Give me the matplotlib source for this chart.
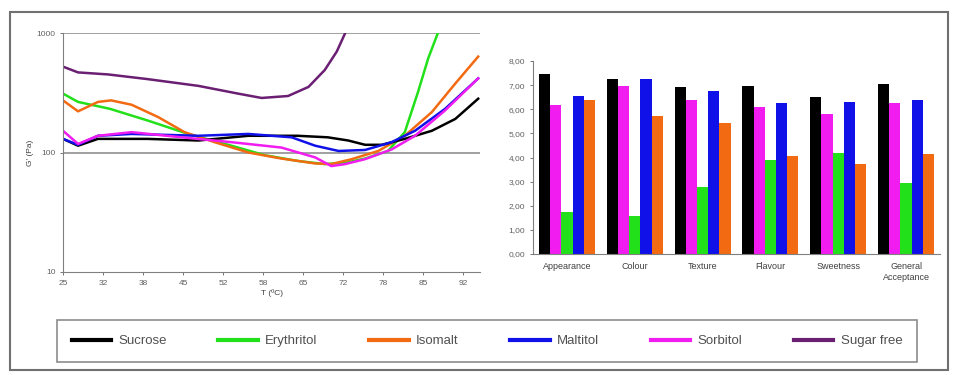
import matplotlib.pyplot as plt
import numpy as np
from matplotlib.patches import Rectangle
from matplotlib.lines import Line2D
from matplotlib.ticker import FixedLocator, FuncFormatter, NullLocator

plt.rcParams['font.family'] = ['Liberation Sans', 'DejaVu Sans']

# --- rheology curves, G' (Pa) vs temperature ---
t_sucrose = [25, 27.5, 30.8, 39, 47.5, 55.8, 64, 69, 72.4, 75.2, 78, 81.8, 86.3, 90.2, 94]
g_sucrose = [130, 114, 130, 130, 126, 138, 138, 134, 126, 116, 116, 130, 152, 191, 282]

t_erythritol = [25, 27.5, 32.8, 39.1, 45.8, 53, 58.5, 64, 68.5, 71.9, 75.2, 79, 81.8, 84, 85.7, 87.3]
g_erythritol = [311, 265, 232, 185, 143, 114, 95, 85, 80, 82, 89, 103, 148, 321, 615, 1000]

t_isomalt = [25, 27.5, 30.8, 33, 36.4, 40.8, 45.2, 50.2, 55.8, 61.3, 66.9, 69.6, 73, 77.4, 81.8, 86.3, 90.2, 94]
g_isomalt = [273, 221, 265, 273, 251, 198, 148, 122, 100, 89, 81, 80, 88, 103, 138, 218, 378, 635]

t_maltitol = [25, 27.5, 30.8, 36.4, 47.5, 55.8, 63, 66.9, 70.8, 75.2, 79.6, 83.5, 88.5, 94]
g_maltitol = [130, 116, 138, 143, 138, 143, 134, 114, 103, 105, 122, 152, 232, 417]

t_sorbitol = [25, 27.5, 30.8, 36.4, 44.7, 53, 61.3, 66.9, 69.6, 71.9, 75.2, 79.6, 83.5, 88.5, 94]
g_sorbitol = [152, 118, 138, 148, 134, 122, 110, 91, 77, 80, 88, 106, 138, 225, 417]

t_sugarfree = [25, 27.5, 32.5, 39.1, 47.5, 54.1, 58, 62.4, 65.8, 68.5, 70.5, 71.9]
g_sugarfree = [523, 468, 450, 411, 361, 311, 286, 297, 354, 490, 700, 1000]

# axis ticks sit every 6.65 degrees, labels are the rounded values
temp_tick_pos = [25, 31.65, 38.3, 44.95, 51.6, 58.25, 64.9, 71.55, 78.2, 84.85, 91.5]
temp_tick_labels = ['25', '32', '38', '45', '52', '58', '65', '72', '78', '85', '92']

# --- sensory scores ---
attributes = ['Appearance', 'Colour', 'Texture', 'Flavour', 'Sweetness', 'General\nAcceptance']
score_sucrose = [7.48, 7.27, 6.92, 6.97, 6.50, 7.05]
score_sorbitol = [6.19, 6.95, 6.40, 6.10, 5.82, 6.26]
score_erythritol = [1.75, 1.59, 2.76, 3.89, 4.17, 2.95]
score_maltitol = [6.54, 7.27, 6.76, 6.26, 6.29, 6.40]
score_isomalt = [6.37, 5.74, 5.41, 4.06, 3.72, 4.15]

colors = {
    'Sucrose': '#000000',
    'Erythritol': '#22e01a',
    'Isomalt': '#f26a12',
    'Maltitol': '#1010e8',
    'Sorbitol': '#f01cf0',
    'Sugar free': '#6a1f72',
}

fig = plt.figure(figsize=(9.55, 3.75), dpi=100)

# outer frame
fig.patches.append(Rectangle((10 / 955, 1 - 370 / 375), 938 / 955, 358 / 375,
                             transform=fig.transFigure, fill=False,
                             edgecolor='#707070', linewidth=1.5))

# left: G' curves
ax1 = fig.add_axes([63 / 955, 1 - 272 / 375, 417 / 955, 239 / 375])
ax1.plot(t_sugarfree, g_sugarfree, color=colors['Sugar free'], lw=1.8)
ax1.plot(t_erythritol, g_erythritol, color=colors['Erythritol'], lw=1.8)
ax1.plot(t_isomalt, g_isomalt, color=colors['Isomalt'], lw=1.8)
ax1.plot(t_sucrose, g_sucrose, color=colors['Sucrose'], lw=1.8)
ax1.plot(t_maltitol, g_maltitol, color=colors['Maltitol'], lw=1.8)
ax1.plot(t_sorbitol, g_sorbitol, color=colors['Sorbitol'], lw=1.8)
ax1.set_yscale('log')
ax1.set_ylim(10, 1000)
ax1.set_xlim(25, 94.3)
ax1.yaxis.set_major_locator(FixedLocator([10, 100, 1000]))
ax1.yaxis.set_minor_locator(NullLocator())
ax1.yaxis.set_major_formatter(FuncFormatter(lambda v, p: '%d' % v))
ax1.set_xticks(temp_tick_pos)
ax1.set_xticklabels(temp_tick_labels)
for y in [100, 1000]:
    ax1.axhline(y, color='#a0a0a0', lw=1.4, zorder=0)
for s in ['top', 'right']:
    ax1.spines[s].set_visible(False)
for s in ['left', 'bottom']:
    ax1.spines[s].set_color('#808080')
ax1.tick_params(labelsize=6, colors='#606060', length=2, width=0.6)
ax1.set_xlabel('T (ºC)', fontsize=6, color='#404040', labelpad=2)
ax1.set_ylabel("G' (Pa)", fontsize=6, color='#404040', labelpad=2)

# right: sensory bars
ax2 = fig.add_axes([533 / 955, 1 - 254 / 375, 407 / 955, 193 / 375])
x = np.arange(len(attributes))
w = 0.165
series = [(score_sucrose, 'Sucrose'), (score_sorbitol, 'Sorbitol'),
          (score_erythritol, 'Erythritol'), (score_maltitol, 'Maltitol'),
          (score_isomalt, 'Isomalt')]
for i, (vals, name) in enumerate(series):
    ax2.bar(x - 0.33 + i * w, vals, width=w, color=colors[name])
ax2.set_ylim(0, 8)
ax2.set_xlim(-0.5, len(attributes) - 0.5)
ax2.set_yticks(np.arange(0, 9, 1))
ax2.yaxis.set_major_formatter(FuncFormatter(lambda v, p: ('%.2f' % v).replace('.', ',')))
ax2.set_xticks(x)
ax2.set_xticklabels(attributes)
for s in ['top', 'right']:
    ax2.spines[s].set_visible(False)
for s in ['left', 'bottom']:
    ax2.spines[s].set_color('#808080')
ax2.tick_params(axis='y', labelsize=6, colors='#606060', length=2, width=0.6)
ax2.tick_params(axis='x', labelsize=6.5, colors='#404040', length=0, pad=6)

# shared legend at the bottom
order = ['Sucrose', 'Erythritol', 'Isomalt', 'Maltitol', 'Sorbitol', 'Sugar free']
handles = [Line2D([0], [0], color=colors[n], lw=3) for n in order]
leg = fig.legend(handles, order, loc='center',
                 bbox_to_anchor=(57 / 955, 1 - 363 / 375, 860 / 955, 44 / 375),
                 mode='expand', ncol=6, fontsize=9.5, frameon=True, fancybox=False,
                 edgecolor='#707070', handlelength=3.0, handletextpad=0.55,
                 borderpad=1.1, borderaxespad=0)
leg.get_frame().set_linewidth(1.2)
for txt in leg.get_texts():
    txt.set_color('#505050')

plt.savefig('out.png', dpi=100)
plt.close()
